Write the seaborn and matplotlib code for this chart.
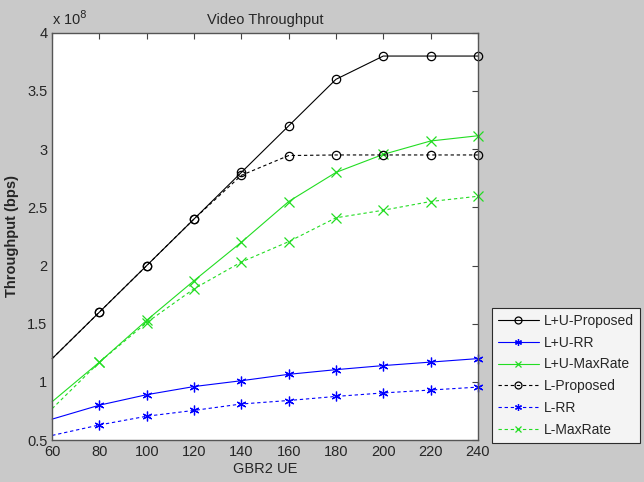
import numpy as np
import pandas as pd
import matplotlib
matplotlib.use("Agg")
import matplotlib.pyplot as plt
import matplotlib.ticker as mticker
import seaborn as sns

# data (throughput in units of 1e8 bps)
gbr2_ue = [60, 80, 100, 120, 140, 160, 180, 200, 220, 240]
lu_proposed = [1.20, 1.60, 2.00, 2.40, 2.80, 3.20, 3.60, 3.80, 3.80, 3.80]
lu_rr = [0.68, 0.80, 0.89, 0.96, 1.01, 1.065, 1.105, 1.14, 1.17, 1.20]
lu_maxrate = [0.83, 1.17, 1.53, 1.87, 2.20, 2.55, 2.80, 2.955, 3.07, 3.115]
l_proposed = [1.20, 1.60, 2.00, 2.40, 2.775, 2.945, 2.95, 2.95, 2.95, 2.95]
l_rr = [0.54, 0.63, 0.705, 0.755, 0.81, 0.84, 0.875, 0.905, 0.93, 0.955]
l_maxrate = [0.77, 1.17, 1.51, 1.80, 2.03, 2.205, 2.41, 2.475, 2.55, 2.595]

asterisk = (6, 2, 0)
series = [
    ("L+U-Proposed", lu_proposed, "black", "o", "-"),
    ("L+U-RR", lu_rr, "#0000ff", asterisk, "-"),
    ("L+U-MaxRate", lu_maxrate, "#22dd22", "x", "-"),
    ("L-Proposed", l_proposed, "black", "o", (0, (3, 2.5))),
    ("L-RR", l_rr, "#0000ff", asterisk, (0, (3, 2.5))),
    ("L-MaxRate", l_maxrate, "#22dd22", "x", (0, (3, 2.5))),
]

sns.set_style("white")
plt.rcParams["font.family"] = ["Liberation Sans", "DejaVu Sans"]

fig = plt.figure(figsize=(6.44, 4.82), dpi=100, facecolor="#c9c9c9")
ax = fig.add_axes([0.081, 0.087, 0.661, 0.845])
ax.set_facecolor("white")

for name, vals, col, mk, ls in series:
    y = np.array(vals) * 1e8
    sns.lineplot(x=gbr2_ue, y=y, ax=ax, color=col, marker=mk, linestyle=ls,
                 linewidth=0.8, markersize=6 if mk == "o" else 7,
                 markerfacecolor="none",
                 markeredgecolor=col, markeredgewidth=0.9,
                 markevery=list(range(1, len(gbr2_ue))), label=name,
                 clip_on=False)

ax.set_xlim(60, 240)
ax.set_ylim(0.5e8, 4e8)
ax.set_xticks(range(60, 241, 20))
ax.set_yticks(np.arange(0.5e8, 4.01e8, 0.5e8))
ax.yaxis.set_major_formatter(mticker.FuncFormatter(lambda v, p: f"{v / 1e8:g}"))
ax.text(0.0, 1.012, r"x 10$^{8}$", transform=ax.transAxes, fontsize=10.5,
        ha="left", va="bottom")

ax.tick_params(direction="in", top=True, right=True, length=4, labelsize=10.5,
               color="#444444", width=0.8)
for s in ax.spines.values():
    s.set_color("#555555")
    s.set_linewidth(1.0)

ax.set_title("Video Throughput", fontsize=10.5, pad=6)
ax.set_xlabel("GBR2 UE", fontsize=10.5, labelpad=2)
ax.set_ylabel("Throughput (bps)", fontsize=10.5, fontweight="bold", labelpad=6)

leg = ax.legend(loc="lower left", bbox_to_anchor=(0.764, 0.081),
                bbox_transform=fig.transFigure, fontsize=10, frameon=True,
                fancybox=False, borderpad=0.45, labelspacing=0.56,
                handlelength=2.9, handletextpad=0.35, borderaxespad=0,
                numpoints=1)
leg.get_frame().set_edgecolor("black")
leg.get_frame().set_linewidth(0.8)
for h in leg.get_lines():
    h.set_markevery([1])
    h.set_markersize(5)

fig.savefig("out.png", dpi=100, facecolor=fig.get_facecolor())
